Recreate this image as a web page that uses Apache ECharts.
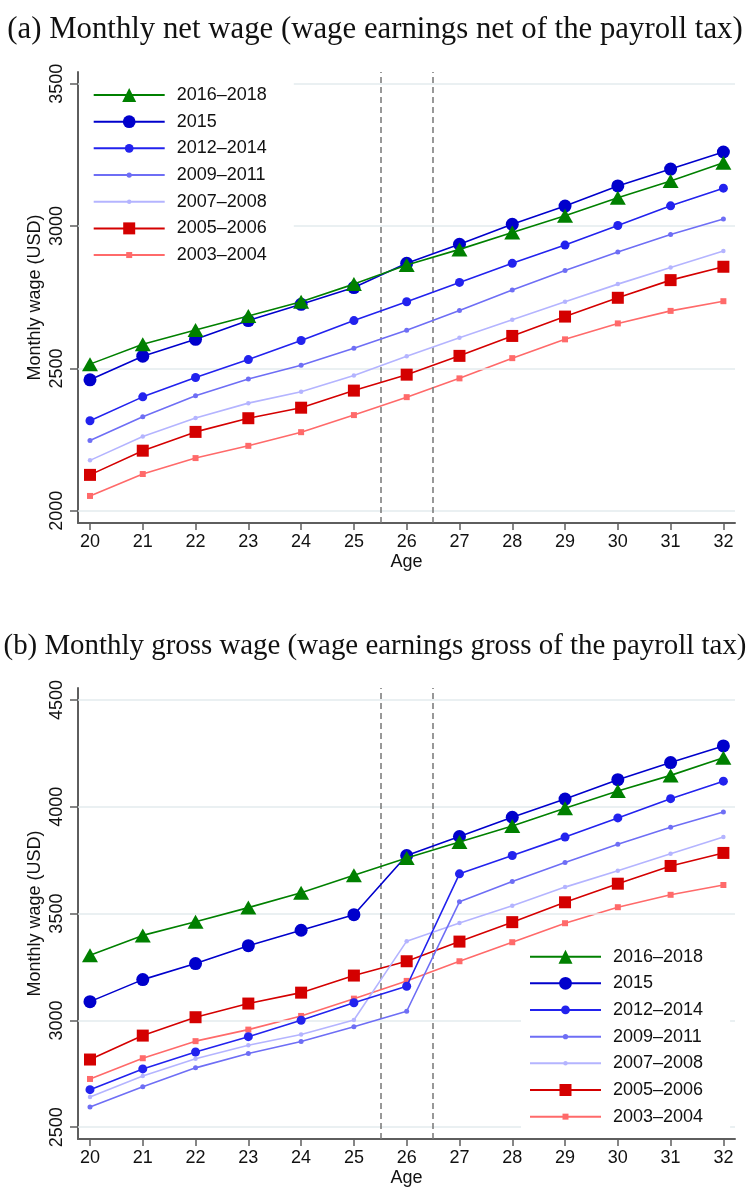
<!DOCTYPE html>
<html><head><meta charset="utf-8">
<script src="https://cdn.jsdelivr.net/npm/echarts@6/dist/echarts.min.js"></script>
<style>html,body{margin:0;padding:0;background:#fff}#c{width:750px;height:1188px}</style>
</head><body><div id="c"></div>
<script>
// ---------- data ----------
const ages = [20, 21, 22, 23, 24, 25, 26, 27, 28, 29, 30, 31, 32];
const seriesNames = ['2016–2018', '2015', '2012–2014', '2009–2011', '2007–2008', '2005–2006', '2003–2004'];

// (a) monthly net wage
const net2016_2018 = [2515, 2585, 2635, 2684, 2734, 2796, 2863, 2918, 2977, 3036, 3099, 3158, 3222];
const net2015      = [2460, 2543, 2602, 2668, 2725, 2784, 2869, 2936, 3006, 3070, 3141, 3200, 3260];
const net2012_2014 = [2316, 2400, 2468, 2531, 2598, 2668, 2734, 2802, 2869, 2933, 3002, 3071, 3133];
const net2009_2011 = [2247, 2330, 2404, 2463, 2511, 2571, 2634, 2703, 2775, 2844, 2909, 2970, 3025];
const net2007_2008 = [2177, 2261, 2326, 2378, 2418, 2475, 2543, 2608, 2671, 2734, 2796, 2854, 2912];
const net2005_2006 = [2126, 2211, 2277, 2325, 2362, 2422, 2478, 2544, 2614, 2682, 2748, 2810, 2857];
const net2003_2004 = [2052, 2129, 2185, 2228, 2276, 2336, 2399, 2465, 2536, 2602, 2658, 2702, 2736];

// (b) monthly gross wage
const gross2016_2018 = [3305, 3398, 3462, 3528, 3598, 3679, 3760, 3835, 3910, 3993, 4074, 4147, 4229];
const gross2015      = [3088, 3191, 3266, 3350, 3422, 3495, 3772, 3861, 3951, 4036, 4127, 4207, 4285];
const gross2012_2014 = [2676, 2773, 2852, 2924, 3001, 3083, 3160, 3686, 3772, 3858, 3948, 4038, 4120];
const gross2009_2011 = [2595, 2690, 2778, 2845, 2901, 2970, 3043, 3555, 3650, 3739, 3825, 3904, 3976];
const gross2007_2008 = [2642, 2740, 2821, 2884, 2934, 3002, 3371, 3456, 3537, 3624, 3701, 3780, 3859];
const gross2005_2006 = [2817, 2929, 3015, 3079, 3130, 3210, 3277, 3369, 3460, 3553, 3640, 3723, 3784];
const gross2003_2004 = [2726, 2823, 2903, 2957, 3021, 3102, 3185, 3277, 3366, 3455, 3530, 3588, 3634];

const netTicks = [2000, 2500, 3000, 3500];
const grossTicks = [2500, 3000, 3500, 4000, 4500];
const cutoffAges = [25.5, 26.5];

const titleA = '(a) Monthly net wage (wage earnings net of the payroll tax)';
const titleB = '(b) Monthly gross wage (wage earnings gross of the payroll tax)';
const yName = 'Monthly wage (USD)';
const xName = 'Age';

// ---------- styles ----------
const FONT = 'Liberation Sans';
const SERIF = 'Liberation Serif';
const AX = '#5e5e5e';
const styles = [
  {color: '#008000', symbol: 'triangle', size: [16, 14], legendH: 17.5},
  {color: '#0000cc', symbol: 'circle', size: 13, legendH: 16},
  {color: '#2222ee', symbol: 'circle', size: 9, legendH: 11},
  {color: '#6e6ef5', symbol: 'circle', size: 5, legendH: 6.5},
  {color: '#b4b4ff', symbol: 'circle', size: 4.5, legendH: 5.5},
  {color: '#d40000', symbol: 'rect', size: 12, legendH: 15},
  {color: '#ff6a6a', symbol: 'rect', size: 6, legendH: 7.5}
];
const netData = [net2016_2018, net2015, net2012_2014, net2009_2011, net2007_2008, net2005_2006, net2003_2004];
const grossData = [gross2016_2018, gross2015, gross2012_2014, gross2009_2011, gross2007_2008, gross2005_2006, gross2003_2004];

const panels = [
  {grid: {left: 78, top: 72, width: 657, height: 451}, ymin: 1957, ymax: 3541, ticks: netTicks, data: netData,
   legend: {left: 80, top0: 81.7, padL: 12.7, padR: 27}},
  {grid: {left: 78, top: 688, width: 657, height: 452}, ymin: 2445, ymax: 4556, ticks: grossTicks, data: grossData,
   legend: {left: 521, top0: 943.3, padL: 8, padR: 27}}
];

const option = {
  animation: false,
  backgroundColor: '#fff',
  title: [
    {text: titleA, left: 'center', top: 9, textStyle: {fontFamily: SERIF, fontWeight: 'normal', fontSize: 30.8, color: '#111'}},
    {text: titleB, left: 'center', top: 627, textStyle: {fontFamily: SERIF, fontWeight: 'normal', fontSize: 28.9, color: '#111'}}
  ],
  grid: [], xAxis: [], yAxis: [], series: [], legend: []
};

panels.forEach((p, gi) => {
  option.grid.push(Object.assign({containLabel: false}, p.grid));
  option.xAxis.push({
    gridIndex: gi, type: 'value', min: 19.773, max: 32.22,
    name: xName, nameLocation: 'middle', nameGap: 30, nameMoveOverlap: false,
    nameTextStyle: {fontSize: 18, color: '#111', fontFamily: FONT},
    axisLine: {show: true, onZero: false, lineStyle: {color: AX, width: 2}},
    axisTick: {show: true, customValues: ages, length: 7, lineStyle: {color: AX, width: 1.5}},
    axisLabel: {customValues: ages, fontSize: 18, color: '#111', margin: 10, fontFamily: FONT,
                formatter: v => String(v)},
    splitLine: {show: false}
  });
  option.yAxis.push({
    gridIndex: gi, type: 'value', min: p.ymin, max: p.ymax,
    name: yName, nameLocation: 'middle', nameGap: 34, nameMoveOverlap: false,
    nameTextStyle: {fontSize: 18, color: '#111', fontFamily: FONT},
    axisLine: {show: true, onZero: false, lineStyle: {color: AX, width: 2}},
    axisTick: {show: true, customValues: p.ticks, length: 8, lineStyle: {color: AX, width: 1.5}},
    axisLabel: {customValues: p.ticks, rotate: 90, fontSize: 18, color: '#111', margin: 12, fontFamily: FONT,
                formatter: v => String(v)},
    splitLine: {show: false}
  });
  // grid lines and cut-off ages
  option.series.push({
    type: 'line', xAxisIndex: gi, yAxisIndex: gi, data: [], silent: true, z: 1,
    markLine: {
      silent: true, symbol: 'none', animation: false, label: {show: false},
      data: p.ticks.map(v => ({yAxis: v, lineStyle: {color: '#e3ebee', width: 1.5, type: 'solid'}}))
        .concat(cutoffAges.map(v => ({xAxis: v, lineStyle: {color: '#777', width: 1.5, type: [6, 4]}})))
    }
  });
  // data series, drawn from oldest to newest
  for (let i = seriesNames.length - 1; i >= 0; i--) {
    const s = styles[i];
    option.series.push({
      type: 'line', name: seriesNames[i], xAxisIndex: gi, yAxisIndex: gi,
      data: ages.map((a, k) => [a, p.data[i][k]]),
      symbol: s.symbol, symbolSize: s.size, showAllSymbol: true,
      lineStyle: {color: s.color, width: 1.6},
      itemStyle: {color: s.color},
      emphasis: {disabled: true}, z: 3 + (seriesNames.length - i)
    });
  }
  // legend items, one block each so the marker sizes differ
  seriesNames.forEach((nm, i) => {
    const s = styles[i];
    option.legend.push({
      data: [nm], orient: 'vertical', left: p.legend.left, top: p.legend.top0 + i * 26.67,
      itemWidth: 71, itemHeight: s.legendH, selectedMode: false,
      padding: [3.33, p.legend.padR, 3.33, p.legend.padL],
      backgroundColor: '#fff', z: 10,
      textStyle: {fontSize: 18, lineHeight: 20, color: '#111', fontFamily: FONT, padding: [0, 0, 0, 7]}
    });
  });
});

const chart = echarts.init(document.getElementById('c'), null, {renderer: 'canvas'});
chart.setOption(option);
</script>
</body></html>
